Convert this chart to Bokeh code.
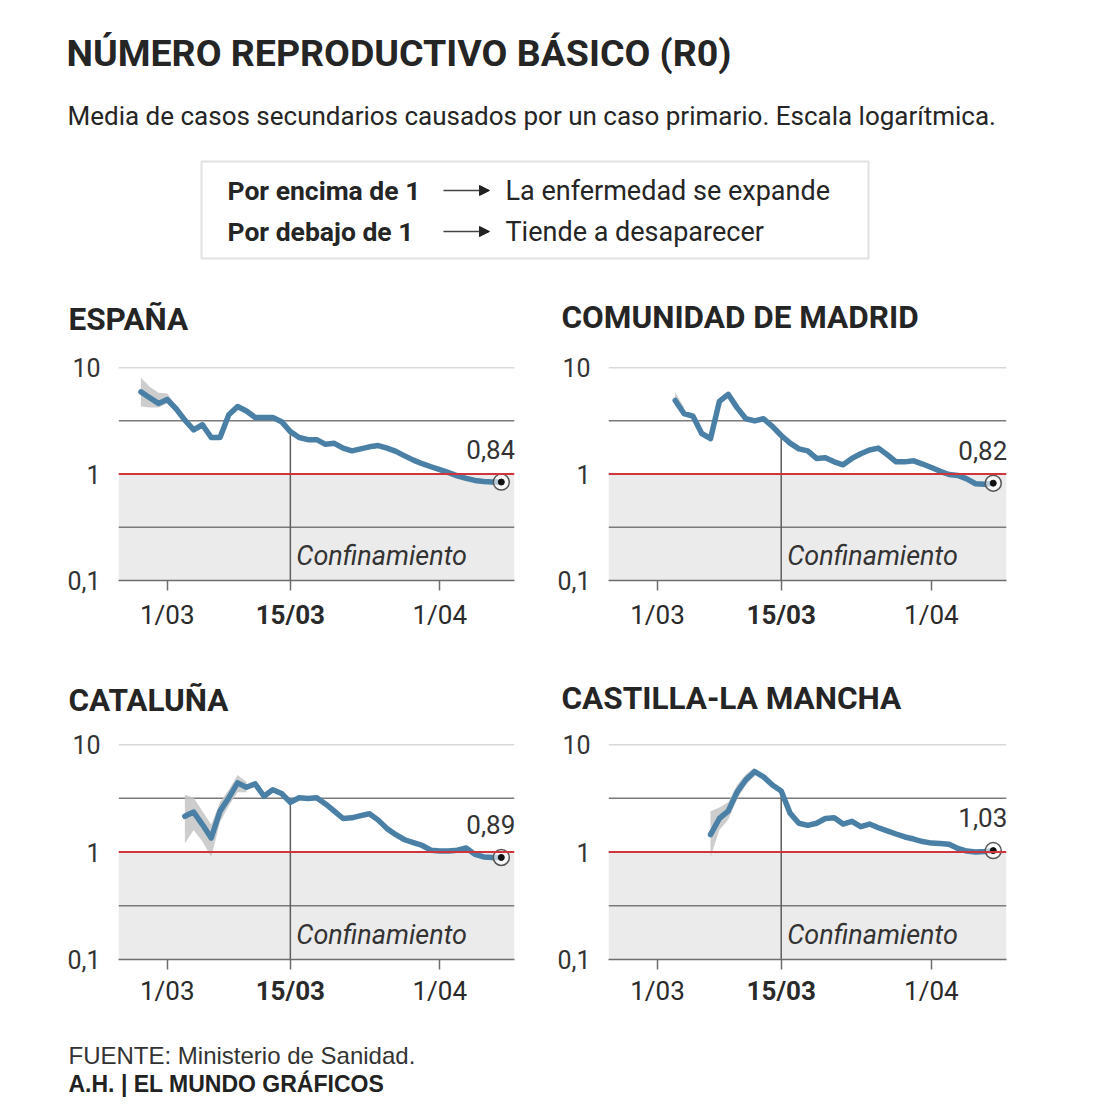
from bokeh.plotting import figure
from bokeh.layouts import column, row
from bokeh.models import (Range1d, FixedTicker, CustomJSTickFormatter, Span, BoxAnnotation,
                          Label, ColumnDataSource, Arrow, NormalHead)
from bokeh.core.properties import value
from bokeh.embed import file_html
from bokeh.resources import INLINE

FONT = "Roboto"
FOOT_FONT = "Liberation Sans"
TXT = "#252525"

# ---------------- data ----------------
tick_days = [0, 14, 31]              # days counted from 1 March
tick_labels = ["1/03", "15/03", "1/04"]
lockdown_day = 14
lockdown_label = "Confinamiento"
y_ticks = [0.1, 1, 10]

esp_days = list(range(-3, 39))
esp_r0 = [5.9, 5.2, 4.6, 5.0, 4.1, 3.2, 2.6, 2.9, 2.2, 2.2, 3.6, 4.3, 3.9, 3.4,
          3.4, 3.4, 3.1, 2.5, 2.2, 2.1, 2.1, 1.9, 1.94, 1.75, 1.65, 1.72, 1.8, 1.85,
          1.75, 1.63, 1.48, 1.35, 1.25, 1.17, 1.10, 1.03, 0.96, 0.91, 0.87, 0.85, 0.84, 0.84]
esp_band_days = [-3, -2, -1, 0, 1]
esp_band_hi = [8.0, 6.6, 5.8, 5.7, 4.4]
esp_band_lo = [4.3, 4.2, 4.2, 4.6, 3.8]

mad_days = list(range(2, 39))
mad_r0 = [4.9, 3.7, 3.5, 2.4, 2.15, 4.8, 5.6, 4.2, 3.3, 3.15, 3.3, 2.8, 2.3, 1.95,
          1.72, 1.65, 1.4, 1.42, 1.3, 1.22, 1.4, 1.55, 1.68, 1.75, 1.52, 1.3, 1.3,
          1.33, 1.24, 1.15, 1.06, 0.99, 0.97, 0.9, 0.81, 0.80, 0.82]
mad_band_days = [2, 3]
mad_band_hi = [5.9, 4.2]
mad_band_lo = [4.4, 3.4]

cat_days = list(range(2, 39))
cat_r0 = [2.15, 2.35, 1.8, 1.35, 2.4, 3.2, 4.4, 4.0, 4.3, 3.3, 3.8, 3.5, 2.9, 3.2,
          3.15, 3.2, 2.8, 2.4, 2.05, 2.08, 2.18, 2.27, 1.98, 1.65, 1.45, 1.3, 1.22,
          1.15, 1.04, 1.02, 1.02, 1.04, 1.09, 0.95, 0.9, 0.89, 0.89]
cat_band_days = [2, 3, 4, 5, 6, 7, 8, 9]
cat_band_hi = [3.4, 3.2, 2.4, 1.8, 2.9, 3.8, 5.2, 4.5]
cat_band_lo = [1.2, 1.6, 1.25, 0.9, 1.9, 2.7, 3.6, 3.6]

clm_days = list(range(6, 39))
clm_r0 = [1.45, 2.05, 2.4, 3.6, 4.7, 5.6, 5.0, 4.2, 3.7, 2.3, 1.85, 1.77, 1.85,
          2.05, 2.08, 1.82, 1.93, 1.72, 1.82, 1.68, 1.57, 1.47, 1.38, 1.32, 1.25,
          1.21, 1.2, 1.18, 1.08, 1.02, 1.0, 1.01, 1.03]
clm_band_days = [6, 7, 8, 9, 10, 11]
clm_band_hi = [2.4, 2.6, 2.9, 4.2, 5.3, 6.1]
clm_band_lo = [0.9, 1.6, 2.0, 3.1, 4.2, 5.1]

X0, X1 = -5.55, 39.5


def make_panel(days, vals, bdays, bhi, blo, width, height, bl, br, bt, bb, xr):
    p = figure(width=width, height=height, y_axis_type="log",
               x_range=xr, y_range=Range1d(0.1, 10),
               output_backend="svg", toolbar_location=None,
               min_border_left=bl, min_border_right=br,
               min_border_top=bt, min_border_bottom=bb)
    p.outline_line_color = None
    p.background_fill_color = "white"
    p.border_fill_color = "white"
    p.grid.visible = False

    # shaded zone below 1
    p.add_layout(BoxAnnotation(bottom=0.1, top=1, fill_color="#ebebeb", fill_alpha=1,
                               line_color=None, level="underlay"))
    # grid lines
    p.add_layout(Span(location=10, dimension="width", line_color="#b3b3b3",
                      line_width=1.5, level="underlay"))
    for loc in (10 ** 0.5, 10 ** -0.5):
        p.add_layout(Span(location=loc, dimension="width", line_color="#7a7a7a",
                          line_width=1.5, level="underlay"))

    # y axis
    ya = p.yaxis[0]
    ya.ticker = FixedTicker(ticks=y_ticks, minor_ticks=[])
    ya.formatter = CustomJSTickFormatter(code="return String(tick).replace('.', ',');")
    ya.axis_line_color = None
    ya.major_tick_line_color = None
    ya.minor_tick_line_color = None
    ya.major_label_standoff = 12
    ya.major_label_text_font = FONT
    ya.major_label_text_font_size = "25px"
    ya.major_label_text_color = "#333333"

    # x axis (ticks only; labels drawn in the strip below with the same scale)
    xa = p.xaxis[0]
    xa.ticker = FixedTicker(ticks=tick_days, minor_ticks=[])
    xa.formatter = CustomJSTickFormatter(code="return '';")
    xa.major_label_text_font_size = "0px"
    xa.axis_line_color = "#6e6e6e"
    xa.axis_line_width = 1.5
    xa.major_tick_line_color = "#6e6e6e"
    xa.major_tick_line_width = 1.5
    xa.major_tick_in = 0
    xa.major_tick_out = 10
    xa.minor_tick_line_color = None
    xa.major_label_standoff = 0

    # lockdown vertical line up to the curve
    v_lock = vals[days.index(lockdown_day)]
    p.segment(x0=[lockdown_day], y0=[0.1], x1=[lockdown_day], y1=[v_lock],
              line_color="#5e5e5e", line_width=1.5)
    p.add_layout(Label(x=lockdown_day, y=0.17, x_offset=6, text=lockdown_label,
                       text_align="left", text_baseline="middle",
                       text_font=FONT, text_font_size="27px", text_font_style="italic",
                       text_color="#333333"))

    # uncertainty band
    p.varea(x=bdays, y1=blo, y2=bhi, fill_color="#c4c4c4", fill_alpha=0.85)
    # R0 line
    p.line(days, vals, line_color="#4a80a5", line_width=5.5, line_join="round", line_cap="round")

    # threshold line
    p.add_layout(Span(location=1, dimension="width", line_color="#d0353d", line_width=2))

    # end marker
    end = ColumnDataSource(dict(x=[days[-1]], y=[vals[-1]],
                                t=[f"{vals[-1]:.2f}".replace(".", ",")]))
    p.scatter("x", "y", source=end, size=16, fill_color="white", fill_alpha=0.6,
              line_color="#555555", line_width=1.5)
    p.scatter("x", "y", source=end, size=6, fill_color="#111111", line_color="#111111")
    p.text("x", "y", text="t", source=end, x_offset=14, y_offset=-33,
           text_align="right", text_baseline="middle",
           text_font=value(FONT), text_font_size="26px", text_color="#333333")
    return p


def tick_strip(width, height, bl, br, ylab, xr):
    f = figure(width=width, height=height, x_range=xr, y_range=Range1d(height, 0),
               output_backend="svg", toolbar_location=None,
               min_border_left=bl, min_border_right=br, min_border_top=0, min_border_bottom=0)
    f.outline_line_color = None
    f.axis.visible = False
    f.grid.visible = False
    src = ColumnDataSource(dict(
        x=tick_days, y=[ylab] * len(tick_days), t=tick_labels,
        s=["bold" if d == lockdown_day else "normal" for d in tick_days]))
    f.text("x", "y", text="t", source=src, text_font_style="s",
           text_align="center", text_baseline="middle",
           text_font=value(FONT), text_font_size="26px", text_color="#2a2a2a")
    return f


def text_fig(width, height):
    f = figure(width=width, height=height, x_range=Range1d(0, width), y_range=Range1d(height, 0),
               output_backend="svg", toolbar_location=None,
               min_border_left=0, min_border_right=0, min_border_top=0, min_border_bottom=0)
    f.outline_line_color = None
    f.axis.visible = False
    f.grid.visible = False
    f.background_fill_color = "white"
    f.border_fill_color = "white"
    return f


def lab(f, x, y, text, size, style="normal", color=TXT, font=FONT):
    f.add_layout(Label(x=x, y=y, text=text, text_align="left", text_baseline="middle",
                       text_font=font, text_font_size=size, text_font_style=style,
                       text_color=color))


# ---------------- header ----------------
head = text_fig(1114, 345)
lab(head, 66, 52, "NÚMERO REPRODUCTIVO BÁSICO (R0)", "37.5px", "bold")
lab(head, 67, 115, "Media de casos secundarios causados por un caso primario. Escala logarítmica.", "26px")
head.add_layout(BoxAnnotation(left=201, right=868, top=161, bottom=258, fill_color=None,
                              line_color="#9a9a9a", line_width=2))
lab(head, 227, 190, "Por encima de 1", "26.5px", "bold")
lab(head, 227, 231, "Por debajo de 1", "26.5px", "bold")
for yy in (190, 231):
    head.add_layout(Arrow(end=NormalHead(size=10, fill_color="#222222", line_color="#222222"),
                          x_start=443, y_start=yy, x_end=489, y_end=yy,
                          line_color="#444444", line_width=1.5))
lab(head, 505, 190, "La enfermedad se expande", "27px")
lab(head, 505, 231, "Tiende a desaparecer", "27px")
lab(head, 68, 319, "ESPAÑA", "31.5px", "bold")
lab(head, 561, 317, "COMUNIDAD DE MADRID", "31.5px", "bold")

# ---------------- panels ----------------
xr1, xr2, xr3, xr4 = (Range1d(X0, X1) for _ in range(4))
p1 = make_panel(esp_days, esp_r0, esp_band_days, esp_band_hi, esp_band_lo,
                540, 250, 118, 26, 22, 15, xr1)
p2 = make_panel(mad_days, mad_r0, mad_band_days, mad_band_hi, mad_band_lo,
                574, 250, 68, 108, 22, 15, xr2)
t1 = tick_strip(540, 85, 118, 26, 19, xr1)
t2 = tick_strip(574, 85, 68, 108, 19, xr2)

strip = text_fig(1114, 45)
lab(strip, 68, 20, "CATALUÑA", "31.5px", "bold")
lab(strip, 561, 18, "CASTILLA-LA MANCHA", "31.5px", "bold")

p3 = make_panel(cat_days, cat_r0, cat_band_days, cat_band_hi, cat_band_lo,
                540, 249, 118, 26, 19, 15, xr3)
p4 = make_panel(clm_days, clm_r0, clm_band_days, clm_band_hi, clm_band_lo,
                574, 249, 68, 108, 19, 15, xr4)
t3 = tick_strip(540, 61, 118, 26, 16, xr3)
t4 = tick_strip(574, 61, 68, 108, 16, xr4)

foot = text_fig(1114, 69)
lab(foot, 68, 20, "FUENTE: Ministerio de Sanidad.", "24px", "normal", "#333333", FOOT_FONT)
lab(foot, 68, 48, "A.H. | EL MUNDO GRÁFICOS", "23px", "bold", "#222222", FOOT_FONT)

layout = column(head, row(p1, p2), row(t1, t2), strip, row(p3, p4), row(t3, t4), foot,
                spacing=0)

open("out.html", "w").write(file_html(layout, INLINE))
